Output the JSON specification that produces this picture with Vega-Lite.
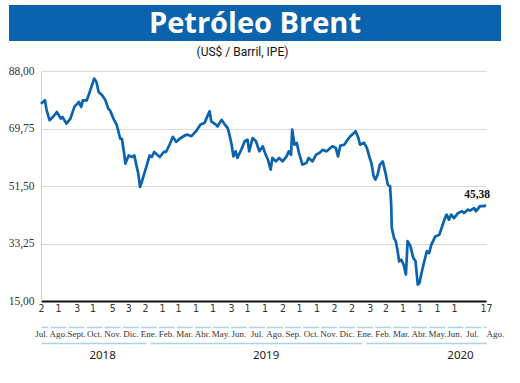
{
  "$schema": "https://vega.github.io/schema/vega-lite/v6.json",
  "padding": {"left": 8, "top": 5, "right": 0, "bottom": 0},
  "background": "white",
  "config": {
    "view": {"stroke": null},
    "locale": {"number": {"decimal": ",", "thousands": ".", "grouping": [3], "currency": ["$", ""]}}
  },
  "datasets": {
    "brent": [
      {"date": "2018-07-02", "price": 77.6}, {"date": "2018-07-09", "price": 78.7}, {"date": "2018-07-12", "price": 75.5},
      {"date": "2018-07-17", "price": 72.4}, {"date": "2018-07-23", "price": 73.4}, {"date": "2018-07-30", "price": 75.0},
      {"date": "2018-08-06", "price": 72.9}, {"date": "2018-08-09", "price": 73.4}, {"date": "2018-08-16", "price": 71.3},
      {"date": "2018-08-23", "price": 72.9}, {"date": "2018-08-30", "price": 76.6}, {"date": "2018-09-07", "price": 78.2},
      {"date": "2018-09-11", "price": 76.6}, {"date": "2018-09-14", "price": 78.7}, {"date": "2018-09-21", "price": 78.7},
      {"date": "2018-09-26", "price": 81.3}, {"date": "2018-09-28", "price": 82.4}, {"date": "2018-10-04", "price": 85.6},
      {"date": "2018-10-08", "price": 84.5}, {"date": "2018-10-12", "price": 81.3}, {"date": "2018-10-18", "price": 80.3},
      {"date": "2018-10-24", "price": 78.7}, {"date": "2018-10-29", "price": 76.0}, {"date": "2018-11-01", "price": 75.5},
      {"date": "2018-11-07", "price": 72.9}, {"date": "2018-11-13", "price": 70.8}, {"date": "2018-11-19", "price": 66.5},
      {"date": "2018-11-22", "price": 66.5}, {"date": "2018-11-26", "price": 61.8}, {"date": "2018-11-28", "price": 58.6},
      {"date": "2018-12-04", "price": 61.2}, {"date": "2018-12-10", "price": 60.7}, {"date": "2018-12-14", "price": 61.2},
      {"date": "2018-12-17", "price": 58.6}, {"date": "2018-12-21", "price": 55.4}, {"date": "2018-12-24", "price": 51.2},
      {"date": "2018-12-28", "price": 53.3}, {"date": "2019-01-04", "price": 57.5}, {"date": "2019-01-10", "price": 61.2},
      {"date": "2019-01-14", "price": 60.7}, {"date": "2019-01-18", "price": 62.3}, {"date": "2019-01-28", "price": 60.7},
      {"date": "2019-02-04", "price": 62.3}, {"date": "2019-02-08", "price": 62.3}, {"date": "2019-02-15", "price": 64.9},
      {"date": "2019-02-20", "price": 67.1}, {"date": "2019-02-26", "price": 65.5}, {"date": "2019-03-04", "price": 66.5},
      {"date": "2019-03-14", "price": 67.6}, {"date": "2019-03-18", "price": 67.8}, {"date": "2019-03-25", "price": 67.3},
      {"date": "2019-04-02", "price": 68.9}, {"date": "2019-04-10", "price": 71.0}, {"date": "2019-04-17", "price": 71.5},
      {"date": "2019-04-22", "price": 73.6}, {"date": "2019-04-26", "price": 75.2}, {"date": "2019-04-29", "price": 72.0},
      {"date": "2019-05-07", "price": 71.0}, {"date": "2019-05-10", "price": 70.4}, {"date": "2019-05-17", "price": 72.5},
      {"date": "2019-05-23", "price": 71.0}, {"date": "2019-05-28", "price": 69.9}, {"date": "2019-05-31", "price": 67.8},
      {"date": "2019-06-04", "price": 64.6}, {"date": "2019-06-07", "price": 60.9}, {"date": "2019-06-11", "price": 62.5},
      {"date": "2019-06-14", "price": 60.4}, {"date": "2019-06-21", "price": 63.0}, {"date": "2019-06-27", "price": 65.7},
      {"date": "2019-07-02", "price": 66.2}, {"date": "2019-07-05", "price": 62.5}, {"date": "2019-07-11", "price": 66.7},
      {"date": "2019-07-17", "price": 65.7}, {"date": "2019-07-23", "price": 62.5}, {"date": "2019-07-29", "price": 64.1},
      {"date": "2019-08-02", "price": 62.0}, {"date": "2019-08-07", "price": 59.9}, {"date": "2019-08-12", "price": 56.7},
      {"date": "2019-08-15", "price": 60.4}, {"date": "2019-08-21", "price": 59.3}, {"date": "2019-08-27", "price": 60.4},
      {"date": "2019-09-02", "price": 59.3}, {"date": "2019-09-09", "price": 60.9}, {"date": "2019-09-13", "price": 62.5},
      {"date": "2019-09-17", "price": 61.4}, {"date": "2019-09-19", "price": 69.4}, {"date": "2019-09-23", "price": 64.6},
      {"date": "2019-09-27", "price": 65.2}, {"date": "2019-10-01", "price": 62.0}, {"date": "2019-10-07", "price": 58.3},
      {"date": "2019-10-14", "price": 58.8}, {"date": "2019-10-18", "price": 60.4}, {"date": "2019-10-25", "price": 59.3},
      {"date": "2019-10-31", "price": 61.4}, {"date": "2019-11-06", "price": 62.0}, {"date": "2019-11-12", "price": 63.0},
      {"date": "2019-11-18", "price": 62.5}, {"date": "2019-11-22", "price": 63.0}, {"date": "2019-11-29", "price": 64.1},
      {"date": "2019-12-05", "price": 63.6}, {"date": "2019-12-09", "price": 60.9}, {"date": "2019-12-13", "price": 64.3},
      {"date": "2019-12-20", "price": 64.6}, {"date": "2019-12-26", "price": 66.2}, {"date": "2019-12-31", "price": 67.3},
      {"date": "2020-01-06", "price": 68.3}, {"date": "2020-01-09", "price": 68.9}, {"date": "2020-01-14", "price": 66.7},
      {"date": "2020-01-17", "price": 64.6}, {"date": "2020-01-24", "price": 65.2}, {"date": "2020-01-29", "price": 63.6},
      {"date": "2020-02-03", "price": 60.4}, {"date": "2020-02-06", "price": 58.8}, {"date": "2020-02-10", "price": 54.6},
      {"date": "2020-02-13", "price": 53.5}, {"date": "2020-02-17", "price": 55.1}, {"date": "2020-02-21", "price": 58.3},
      {"date": "2020-02-26", "price": 59.3}, {"date": "2020-03-02", "price": 55.6}, {"date": "2020-03-06", "price": 51.9},
      {"date": "2020-03-10", "price": 51.4}, {"date": "2020-03-12", "price": 45.6}, {"date": "2020-03-13", "price": 38.2},
      {"date": "2020-03-17", "price": 35.0}, {"date": "2020-03-20", "price": 34.0}, {"date": "2020-03-23", "price": 31.3},
      {"date": "2020-03-26", "price": 27.6}, {"date": "2020-03-30", "price": 28.1}, {"date": "2020-04-03", "price": 26.5},
      {"date": "2020-04-07", "price": 23.4}, {"date": "2020-04-10", "price": 34.0}, {"date": "2020-04-15", "price": 32.4},
      {"date": "2020-04-20", "price": 28.7}, {"date": "2020-04-24", "price": 27.6}, {"date": "2020-04-28", "price": 20.2},
      {"date": "2020-05-01", "price": 20.7}, {"date": "2020-05-04", "price": 23.4}, {"date": "2020-05-08", "price": 26.5},
      {"date": "2020-05-14", "price": 30.8}, {"date": "2020-05-18", "price": 30.2}, {"date": "2020-05-22", "price": 32.9},
      {"date": "2020-05-29", "price": 35.5}, {"date": "2020-06-05", "price": 36.0}, {"date": "2020-06-11", "price": 39.2},
      {"date": "2020-06-15", "price": 41.3}, {"date": "2020-06-18", "price": 42.4}, {"date": "2020-06-22", "price": 40.8},
      {"date": "2020-06-26", "price": 42.4}, {"date": "2020-07-01", "price": 41.3}, {"date": "2020-07-03", "price": 42.9},
      {"date": "2020-07-05", "price": 43.5}, {"date": "2020-07-06", "price": 42.9}, {"date": "2020-07-08", "price": 44.0},
      {"date": "2020-07-09", "price": 43.7}, {"date": "2020-07-11", "price": 44.5}, {"date": "2020-07-12", "price": 43.5},
      {"date": "2020-07-14", "price": 45.1}, {"date": "2020-07-16", "price": 45.1}, {"date": "2020-07-17", "price": 45.38}
    ],
    "ultimo": [{"date": "2020-07-17", "price": 45.38}]
  },
  "concat": [
    {
      "width": 492,
      "height": 36,
      "view": {"fill": "#0a63ac", "stroke": null},
      "data": {"values": [{"titulo": "Petróleo Brent"}]},
      "mark": {"type": "text", "font": "Open Sans", "fontWeight": "bold", "fontSize": 29, "color": "white", "baseline": "middle", "dy": 1},
      "encoding": {"text": {"field": "titulo", "type": "nominal"}}
    },
    {
      "width": 477,
      "height": 230,
      "title": {"text": "(US$ / Barril, IPE)", "font": "Roboto", "fontSize": 12, "fontWeight": "normal", "color": "#111", "offset": 6, "anchor": "middle", "dx": -5},
      "encoding": {
        "y": {
          "field": "price", "type": "quantitative",
          "scale": {"domain": [15, 88], "nice": false, "zero": false},
          "axis": {
            "title": null, "values": [15, 33.25, 51.5, 69.75, 88], "format": ".2f", "ticks": false, "offset": -32,
            "domainColor": "#d3d3d3", "domainWidth": 1, "gridColor": "#d9d9d9", "gridWidth": 1,
            "labelFont": "Liberation Serif", "labelFontSize": 11.5, "labelColor": "#333", "labelPadding": 7
          }
        }
      },
      "layer": [
        {
          "data": {"name": "brent"},
          "mark": {"type": "line", "color": "#0b63ad", "strokeWidth": 2.7, "strokeJoin": "round"},
          "encoding": {
            "x": {
              "field": "date", "type": "temporal",
              "scale": {
                "type": "utc", "nice": false,
                "domain": {"expr": "[utc(2018,6,2), utc(2020,6,1), utc(2020,6,17)]"},
                "range": [32, 445, 477]
              },
              "axis": {
                "orient": "bottom", "title": null, "grid": false, "ticks": false,
                "domainColor": "#111", "domainWidth": 2,
                "labelFont": "DejaVu Sans Condensed", "labelFontSize": 10.5, "labelColor": "#333",
                "labelPadding": 2, "labelFlush": false, "labelOverlap": false,
                "labelExpr": "utcFormat(datum.value, '%-d')",
                "values": [
                  {"year": 2018, "month": 7, "date": 2, "utc": true}, {"year": 2018, "month": 8, "date": 1, "utc": true},
                  {"year": 2018, "month": 9, "date": 3, "utc": true}, {"year": 2018, "month": 10, "date": 1, "utc": true},
                  {"year": 2018, "month": 11, "date": 5, "utc": true}, {"year": 2018, "month": 12, "date": 3, "utc": true},
                  {"year": 2019, "month": 1, "date": 2, "utc": true}, {"year": 2019, "month": 2, "date": 1, "utc": true},
                  {"year": 2019, "month": 3, "date": 1, "utc": true}, {"year": 2019, "month": 4, "date": 1, "utc": true},
                  {"year": 2019, "month": 5, "date": 1, "utc": true}, {"year": 2019, "month": 6, "date": 3, "utc": true},
                  {"year": 2019, "month": 7, "date": 1, "utc": true}, {"year": 2019, "month": 8, "date": 1, "utc": true},
                  {"year": 2019, "month": 9, "date": 2, "utc": true}, {"year": 2019, "month": 10, "date": 1, "utc": true},
                  {"year": 2019, "month": 11, "date": 1, "utc": true}, {"year": 2019, "month": 12, "date": 2, "utc": true},
                  {"year": 2020, "month": 1, "date": 2, "utc": true}, {"year": 2020, "month": 2, "date": 3, "utc": true},
                  {"year": 2020, "month": 3, "date": 2, "utc": true}, {"year": 2020, "month": 4, "date": 1, "utc": true},
                  {"year": 2020, "month": 5, "date": 1, "utc": true}, {"year": 2020, "month": 6, "date": 1, "utc": true},
                  {"year": 2020, "month": 7, "date": 1, "utc": true}, {"year": 2020, "month": 7, "date": 17, "utc": true}
                ]
              }
            }
          }
        },
        {
          "data": {"name": "ultimo"},
          "mark": {"type": "text", "font": "Liberation Serif", "fontWeight": "bold", "fontSize": 11.5, "color": "#111", "align": "right", "baseline": "bottom", "dx": 4, "dy": -5},
          "encoding": {
            "x": {
              "field": "date", "type": "temporal",
              "scale": {
                "type": "utc", "nice": false,
                "domain": {"expr": "[utc(2018,6,2), utc(2020,6,1), utc(2020,6,17)]"},
                "range": [32, 445, 477]
              },
              "axis": {
                "orient": "bottom", "offset": 26, "title": null, "grid": false, "ticks": false,
                "domainColor": "#a9d3ea", "domainWidth": 1.5, "domainDash": [16, 2.04], "domainDashOffset": 9,
                "labelFont": "Liberation Sans Narrow", "labelFontSize": 9, "labelColor": "#333",
                "labelPadding": 2, "labelFlush": false, "labelOverlap": false,
                "labelAlign": {"condition": {"test": "datum.index == 1", "value": "left"}, "value": "center"},
                "labelExpr": "['Jul.','Ago.','Sept.','Oct.','Nov.','Dic.','Ene.','Feb.','Mar.','Abr.','May.','Jun.','Jul.','Ago.','Sep.','Oct.','Nov.','Dic.','Ene.','Feb.','Mar.','Abr.','May.','Jun.','Jul.','Ago.'][round(datum.index * 25)]",
                "values": [
                  {"year": 2018, "month": 7, "date": 2, "utc": true}, {"year": 2018, "month": 8, "date": 1, "utc": true},
                  {"year": 2018, "month": 9, "date": 2, "utc": true}, {"year": 2018, "month": 10, "date": 4, "utc": true},
                  {"year": 2018, "month": 11, "date": 5, "utc": true}, {"year": 2018, "month": 12, "date": 7, "utc": true},
                  {"year": 2019, "month": 1, "date": 8, "utc": true}, {"year": 2019, "month": 2, "date": 8, "utc": true},
                  {"year": 2019, "month": 3, "date": 12, "utc": true}, {"year": 2019, "month": 4, "date": 13, "utc": true},
                  {"year": 2019, "month": 5, "date": 15, "utc": true}, {"year": 2019, "month": 6, "date": 16, "utc": true},
                  {"year": 2019, "month": 7, "date": 18, "utc": true}, {"year": 2019, "month": 8, "date": 19, "utc": true},
                  {"year": 2019, "month": 9, "date": 20, "utc": true}, {"year": 2019, "month": 10, "date": 22, "utc": true},
                  {"year": 2019, "month": 11, "date": 22, "utc": true}, {"year": 2019, "month": 12, "date": 24, "utc": true},
                  {"year": 2020, "month": 1, "date": 25, "utc": true}, {"year": 2020, "month": 2, "date": 26, "utc": true},
                  {"year": 2020, "month": 3, "date": 29, "utc": true}, {"year": 2020, "month": 4, "date": 30, "utc": true},
                  {"year": 2020, "month": 6, "date": 1, "utc": true}, {"year": 2020, "month": 7, "date": 1, "utc": true},
                  {"year": 2020, "month": 7, "date": 10, "utc": true}, {"year": 2020, "month": 7, "date": 17, "utc": true}
                ]
              }
            },
            "text": {"field": "price", "type": "quantitative", "format": ".2f"}
          }
        },
        {
          "data": {"name": "ultimo"},
          "mark": {"type": "point", "opacity": 0},
          "encoding": {
            "x": {
              "field": "date", "type": "temporal",
              "scale": {
                "type": "utc", "nice": false,
                "domain": {"expr": "[utc(2018,6,2), utc(2020,6,1), utc(2020,6,17)]"},
                "range": [32, 445, 477]
              },
              "axis": {
                "orient": "bottom", "offset": 42, "title": null, "grid": false, "ticks": false,
                "domainColor": "#a9d3ea", "domainWidth": 1.5, "domainDash": [105, 4, 212, 4, 200],
                "labelFont": "Noto Sans", "labelFontSize": 11.5, "labelColor": "#222",
                "labelPadding": 6, "labelFlush": false, "labelOverlap": false,
                "labelExpr": "utcFormat(datum.value, '%Y')",
                "values": [
                  {"year": 2018, "month": 10, "date": 18, "utc": true},
                  {"year": 2019, "month": 8, "date": 3, "utc": true},
                  {"year": 2020, "month": 7, "date": 4, "utc": true}
                ]
              }
            }
          }
        }
      ],
      "resolve": {"axis": {"x": "independent"}}
    }
  ],
  "columns": 1,
  "align": "none",
  "spacing": 5
}
